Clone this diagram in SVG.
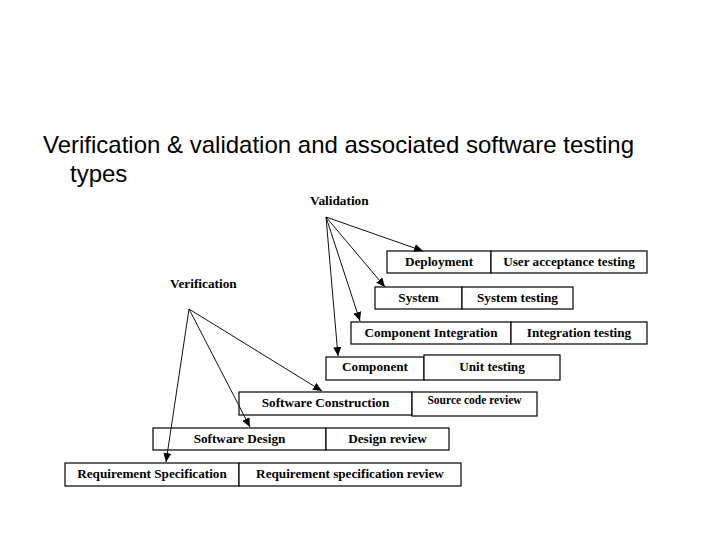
<svg xmlns="http://www.w3.org/2000/svg" width="720" height="540" viewBox="0 0 720 540">
<style>
.title{font-family:"Liberation Sans",Arial,sans-serif;font-size:24px;fill:#000}
.lbl{font-family:"Liberation Serif","Times New Roman",serif;font-size:13.3px;font-weight:bold;fill:#000}
.box{fill:#fff;stroke:#000;stroke-width:1.2}
.cell{font-family:"Liberation Serif","Times New Roman",serif;font-size:13.2px;font-weight:bold;fill:#000;text-anchor:middle}
.small{font-size:11.5px}
.conn line{stroke:#111;stroke-width:1;marker-end:url(#ah)}
</style>
<defs>
<marker id="ah" markerUnits="userSpaceOnUse" markerWidth="10" markerHeight="8" refX="9" refY="4" orient="auto">
<path d="M0,0 L9,4 L0,8 Z" fill="#000"/>
</marker>
</defs>
<rect width="720" height="540" fill="#fff"/>
<g id="title">
<text class="title" x="43" y="153">Verification &amp; validation and associated software testing</text>
<text class="title" x="70" y="182">types</text>
</g>
<g id="validation"><text class="lbl" x="310" y="205">Validation</text></g>
<g id="verification"><text class="lbl" x="170" y="288">Verification</text></g>
<g id="deployment">
<rect class="box" x="387" y="251" width="104" height="22"/>
<rect class="box" x="491" y="251" width="156" height="22"/>
<text class="cell" x="439" y="266">Deployment</text>
<text class="cell" x="569" y="266">User acceptance testing</text>
</g>
<g id="system">
<rect class="box" x="375" y="287" width="87" height="22"/>
<rect class="box" x="462" y="287" width="111" height="22"/>
<text class="cell" x="418.5" y="302">System</text>
<text class="cell" x="517.5" y="302">System testing</text>
</g>
<g id="component-integration">
<rect class="box" x="351" y="322" width="160" height="22"/>
<rect class="box" x="511" y="322" width="136" height="22"/>
<text class="cell" x="431" y="337">Component Integration</text>
<text class="cell" x="579" y="337">Integration testing</text>
</g>
<g id="component">
<rect class="box" x="326" y="357" width="98" height="23"/>
<rect class="box" x="424" y="355" width="136" height="25"/>
<text class="cell" x="375" y="371">Component</text>
<text class="cell" x="492" y="371">Unit testing</text>
</g>
<g id="software-construction">
<rect class="box" x="239" y="392" width="173" height="23"/>
<rect class="box" x="412" y="392" width="125" height="24"/>
<text class="cell" x="325.5" y="407">Software Construction</text>
<text class="cell small" x="474.5" y="404">Source code review</text>
</g>
<g id="software-design">
<rect class="box" x="153" y="428" width="173" height="22"/>
<rect class="box" x="326" y="428" width="123" height="22"/>
<text class="cell" x="239.5" y="443">Software Design</text>
<text class="cell" x="387.5" y="443">Design review</text>
</g>
<g id="requirement-specification">
<rect class="box" x="65" y="463" width="174" height="23"/>
<rect class="box" x="239" y="463" width="222" height="23"/>
<text class="cell" x="152" y="478">Requirement Specification</text>
<text class="cell" x="350" y="478">Requirement specification review</text>
</g>
<g id="connectors" class="conn">
<line x1="326" y1="217" x2="423" y2="251"/>
<line x1="326" y1="217" x2="385" y2="287"/>
<line x1="326" y1="217" x2="360" y2="321"/>
<line x1="326" y1="217" x2="338" y2="356"/>
<line x1="189" y1="309" x2="322" y2="391"/>
<line x1="189" y1="309" x2="250" y2="427"/>
<line x1="189" y1="309" x2="166" y2="462"/>
</g>
</svg>
